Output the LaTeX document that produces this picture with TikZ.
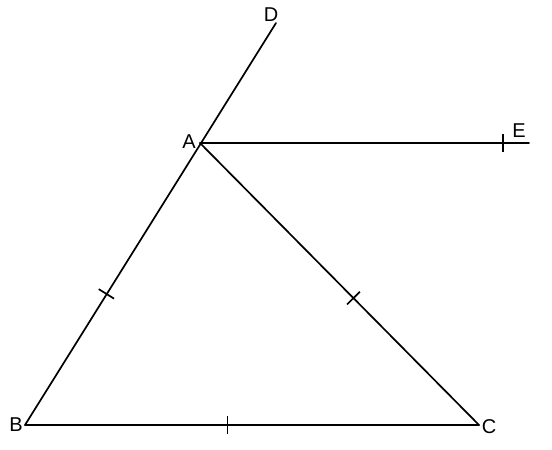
\documentclass[tikz,border=0pt]{standalone}
\usepackage{fontspec}
\setmainfont{Liberation Sans}
\usetikzlibrary{calc}
\begin{document}
\begin{tikzpicture}[x=1pt,y=-1pt,
  seg/.style={line width=1.7pt,line cap=round},
  tickmark/.style={line width=1.7pt},
  lbl/.style={font=\fontsize{20}{20}\selectfont,inner sep=0pt}]
\useasboundingbox (0,0) rectangle (552,450);
\coordinate (A) at (200,143);
\coordinate (B) at (25,425);
\coordinate (C) at (479,425);
\coordinate (D) at (276,23);
\coordinate (E) at (529,143);
\draw[seg] (B) -- (D);
\draw[seg] (A) -- (E);
\draw[seg] (A) -- (C);
\draw[seg] (B) -- (C);
\path (A) -- (B) coordinate[pos=0.535] (tAB);
\path (A) -- (C) coordinate[pos=0.55] (tAC);
\path (B) -- (C) coordinate[pos=0.446] (tBC);
\path (A) -- (E) coordinate[pos=0.921] (tAE);
\draw[tickmark] ($(tAB)!9pt!90:(A)$) -- ($(tAB)!9pt!-90:(A)$);
\draw[tickmark] ($(tAC)!9pt!90:(A)$) -- ($(tAC)!9pt!-90:(A)$);
\draw[tickmark] ($(tBC)!9pt!90:(B)$) -- ($(tBC)!9pt!-90:(B)$);
\draw[tickmark] ($(tAE)!9pt!90:(A)$) -- ($(tAE)!9pt!-90:(A)$);
\node[lbl] (lA) at (189,142) {A};
\node[lbl] (lB) at (16,425) {B};
\node[lbl] (lC) at (489,427) {C};
\node[lbl] (lD) at (271,15) {D};
\node[lbl] (lE) at (519,131) {E};
\end{tikzpicture}
\end{document}
